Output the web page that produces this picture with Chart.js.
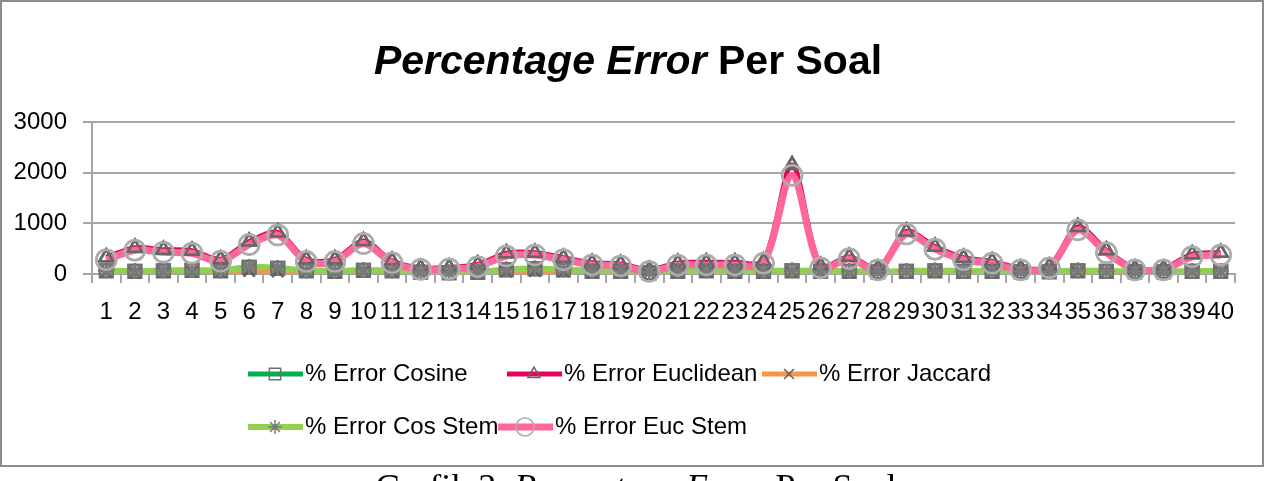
<!DOCTYPE html>
<html lang="id">
<head>
    <meta charset="UTF-8">
    <title>Percentage Error Per Soal</title>
    <style>
        body { margin: 0; background: #fff; }
        #wrap { position: relative; width: 1270px; height: 481px; overflow: hidden; }
        #frame { position: absolute; left: 0; top: 0; width: 1264px; height: 467px; border: 2px solid #8c8c8c; box-sizing: border-box; }
        #chart-box { position: absolute; left: 0; top: 0; width: 1270px; height: 481px; }
        #title { position: absolute; left: 0; width: 1256px; top: 40px; text-align: center;
                 font: bold 41px "Liberation Sans", Arial, sans-serif; line-height: 41px; }
        #caption { position: absolute; left: 0; width: 1272px; top: 469px; text-align: center;
                   font: 36px "Liberation Serif", "Times New Roman", serif; line-height: 36px; }
    </style>
</head>
<body>
<div id="wrap">
    <div id="frame"></div>
    <div id="chart-box"><canvas id="chart"></canvas></div>
    <div id="title"><i>Percentage Error</i> Per Soal</div>
    <div id="caption">Grafik 3. <i>Percentage Error</i> Per Soal</div>
</div>
<script src="https://cdn.jsdelivr.net/npm/chart.js"></script>
<script>
    // nomor soal
    const soal = ['1','2','3','4','5','6','7','8','9','10','11','12','13','14','15','16','17','18','19','20',
                  '21','22','23','24','25','26','27','28','29','30','31','32','33','34','35','36','37','38','39','40'];
    const yTicks = [0, 1000, 2000, 3000];

    // nilai
    const errCosine    = [60, 50, 60, 70, 60, 130, 110, 60, 50, 70, 60, 30, 20, 30, 80, 100, 80, 50, 50, 20,
                          50, 60, 50, 50, 60, 50, 50, 40, 50, 60, 50, 50, 40, 40, 60, 50, 40, 40, 50, 50];
    const errEuclidean = [330, 520, 480, 460, 290, 640, 820, 290, 290, 650, 260, 120, 130, 190, 410, 420, 320, 220, 200, 80,
                          220, 230, 230, 250, 2150, 160, 340, 110, 840, 540, 320, 250, 110, 150, 930, 470, 110, 110, 390, 420];
    const errJaccard   = [40, 30, 40, 50, 40, 60, 50, 40, 30, 50, 40, 20, 20, 20, 50, 60, 50, 30, 30, 20,
                          30, 40, 30, 30, 40, 30, 30, 30, 40, 40, 40, 30, 30, 30, 40, 40, 30, 30, 40, 40];
    const errCosStem   = [70, 60, 70, 80, 70, 140, 120, 70, 60, 80, 70, 40, 30, 40, 90, 110, 90, 60, 60, 30,
                          60, 70, 60, 60, 70, 60, 60, 50, 60, 70, 60, 60, 50, 50, 70, 60, 50, 50, 60, 60];
    const errEucStem   = [280, 470, 430, 410, 250, 580, 770, 245, 245, 600, 220, 90, 100, 145, 355, 375, 280, 180, 160, 50,
                          175, 180, 180, 210, 1950, 120, 300, 80, 790, 490, 280, 210, 80, 120, 870, 420, 80, 80, 340, 375];

    const series = [
        { label: '% Error Cosine',    data: errCosine,    color: '#00b050', width: 5, style: 'rect',     mk: '#707070', r: 9, order: 4 },
        { label: '% Error Euclidean', data: errEuclidean, color: '#e8005a', width: 5, style: 'triangle', mk: '#666666', r: 8, order: 3 },
        { label: '% Error Jaccard',   data: errJaccard,   color: '#f79646', width: 5, style: 'crossRot', mk: '#5e5e5e', r: 8, order: 2 },
        { label: '% Error Cos Stem',  data: errCosStem,   color: '#92d050', width: 6, style: 'star',     mk: '#7a7a7a', r: 8, order: 1 },
        { label: '% Error Euc Stem',  data: errEucStem,   color: '#ff6699', width: 7, style: 'circle',   mk: '#adadad', r: 10, order: 0 }
    ];

    // posisi legenda (gaya Excel, rata kiri)
    const legendPos = [[248, 374], [507, 374], [762, 374], [248, 427], [498, 427]];

    // penanda digambar di atas semua garis, seperti di Excel
    const markersOnTop = {
        id: 'markersOnTop',
        afterDatasetsDraw(chart) {
            const metas = chart.getSortedVisibleDatasetMetas().slice().reverse();
            metas.forEach(meta => {
                meta.data.forEach(pt => pt.draw(chart.ctx, chart.chartArea));
            });
        }
    };

    const legendPlugin = {
        id: 'excelLegend',
        afterDraw(chart) {
            const ctx = chart.ctx;
            ctx.save();
            series.forEach((s, i) => {
                const [x, y] = legendPos[i];
                ctx.strokeStyle = s.color;
                ctx.lineWidth = s.width;
                ctx.beginPath();
                ctx.moveTo(x, y);
                ctx.lineTo(x + 55, y);
                ctx.stroke();
                ctx.fillStyle = 'rgba(0,0,0,0)';
                ctx.strokeStyle = s.mk;
                ctx.lineWidth = 1.5;
                Chart.helpers.drawPoint(ctx, {
                    pointStyle: s.style, radius: s.r - 1, borderWidth: 1.5, rotation: 0
                }, x + 27, y);
                ctx.fillStyle = '#000';
                ctx.font = '24px "Liberation Sans", Arial, sans-serif';
                ctx.textBaseline = 'middle';
                ctx.fillText(s.label, x + 57, y);
            });
            ctx.restore();
        }
    };

    new Chart(document.getElementById('chart'), {
        type: 'line',
        data: {
            labels: soal,
            datasets: series.map(s => ({
                label: s.label,
                data: s.data,
                borderColor: s.color,
                borderWidth: s.width,
                tension: 0.3,
                pointStyle: s.style,
                pointRadius: s.r,
                pointBorderColor: s.mk,
                pointBorderWidth: 2.5,
                pointBackgroundColor: 'rgba(0,0,0,0)',
                order: s.order
            }))
        },
        options: {
            responsive: true,
            maintainAspectRatio: false,
            animation: false,
            layout: { padding: { left: 0, right: 35, top: 122, bottom: 0 } },
            plugins: {
                legend: { display: false },
                title: { display: false },
                tooltip: { enabled: false }
            },
            scales: {
                x: {
                    offset: true,
                    afterFit(scale) { scale.height = 207; },
                    grid: { display: true, drawOnChartArea: false, drawTicks: true, tickLength: 9,
                            color: '#a6a6a6', lineWidth: 2, offset: true },
                    border: { display: true, color: '#a6a6a6', width: 2 },
                    ticks: { autoSkip: false, maxRotation: 0, minRotation: 0, padding: 15, color: '#000',
                             font: { family: '"Liberation Sans", Arial, sans-serif', size: 24 } }
                },
                y: {
                    min: 0,
                    max: 3000,
                    afterFit(scale) { scale.width = 92; },
                    afterBuildTicks(scale) { scale.ticks = yTicks.map(v => ({ value: v })); },
                    grid: { color: '#a6a6a6', lineWidth: 2, drawTicks: true, tickLength: 9 },
                    border: { display: true, color: '#a6a6a6', width: 2 },
                    ticks: { padding: 16, color: '#000', callback: v => String(v),
                             font: { family: '"Liberation Sans", Arial, sans-serif', size: 24 } }
                }
            }
        },
        plugins: [markersOnTop, legendPlugin]
    });
</script>
</body>
</html>
